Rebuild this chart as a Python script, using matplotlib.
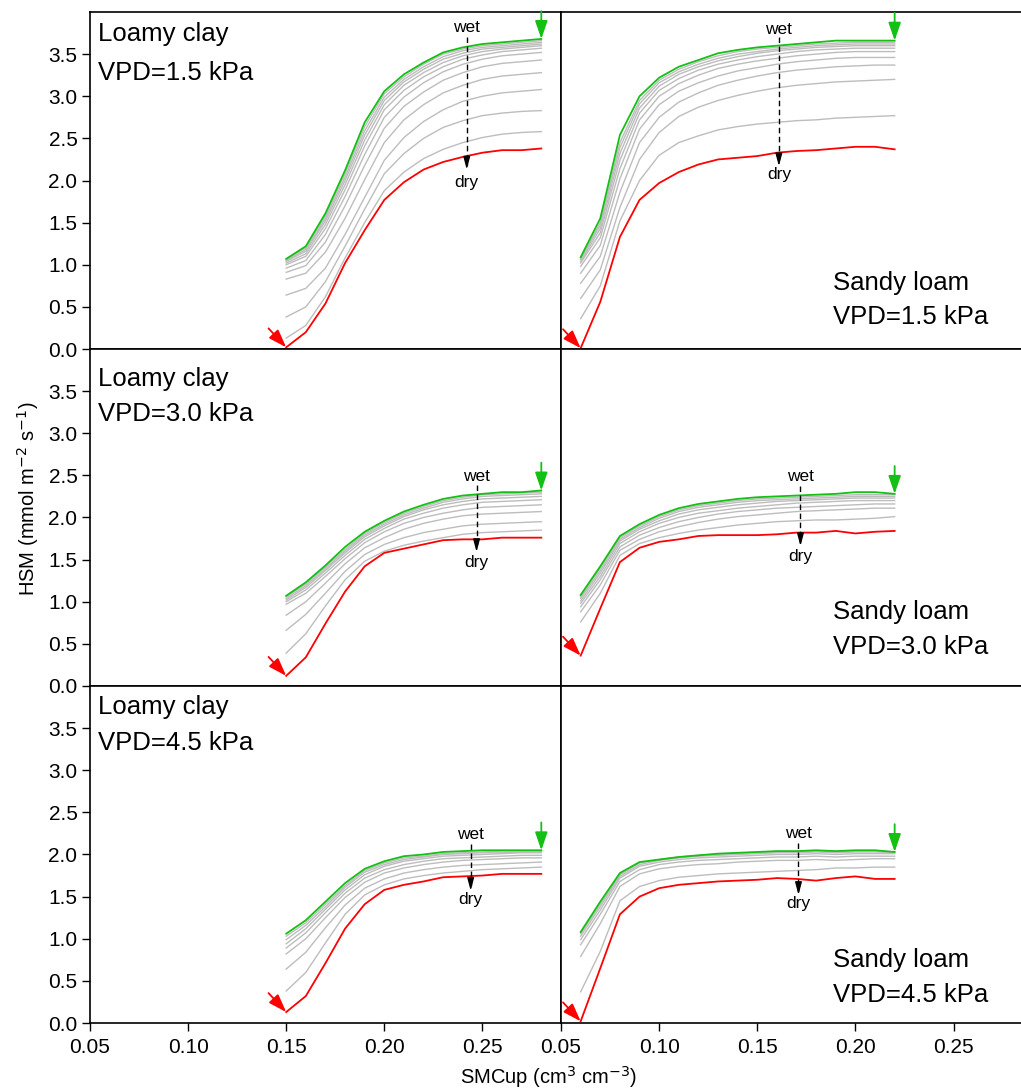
import numpy as np
import matplotlib
matplotlib.use('Agg')
import matplotlib.pyplot as plt

plt.rcParams['font.family'] = ['Liberation Sans', 'DejaVu Sans']

# soil moisture of the upper layer (cm3 cm-3)
x_lc = [0.15, 0.16, 0.17, 0.18, 0.19, 0.20, 0.21, 0.22, 0.23, 0.24, 0.25, 0.26, 0.27, 0.28]
x_sl = [0.06, 0.07, 0.08, 0.09, 0.10, 0.11, 0.12, 0.13, 0.14, 0.15, 0.16, 0.17, 0.18, 0.19, 0.20, 0.21, 0.22]

#%% loamy clay, VPD = 1.5 kPa
lc15_wet = [1.07, 1.22, 1.61, 2.12, 2.69, 3.06, 3.26, 3.40, 3.52, 3.58, 3.62, 3.64, 3.66, 3.68]
lc15_mid = [
    [1.06, 1.20, 1.58, 2.08, 2.64, 3.03, 3.23, 3.38, 3.50, 3.56, 3.60, 3.62, 3.64, 3.66],
    [1.05, 1.18, 1.55, 2.04, 2.59, 2.99, 3.20, 3.35, 3.47, 3.54, 3.58, 3.60, 3.62, 3.64],
    [1.04, 1.16, 1.52, 2.00, 2.54, 2.95, 3.17, 3.32, 3.44, 3.51, 3.56, 3.58, 3.60, 3.62],
    [1.02, 1.13, 1.48, 1.95, 2.48, 2.90, 3.13, 3.28, 3.40, 3.48, 3.53, 3.56, 3.58, 3.60],
    [1.00, 1.10, 1.43, 1.89, 2.41, 2.84, 3.07, 3.23, 3.35, 3.44, 3.49, 3.53, 3.55, 3.57],
    [0.96, 1.05, 1.36, 1.81, 2.31, 2.75, 2.99, 3.16, 3.29, 3.38, 3.44, 3.48, 3.50, 3.52],
    [0.91, 0.99, 1.27, 1.70, 2.18, 2.62, 2.88, 3.05, 3.19, 3.28, 3.35, 3.39, 3.41, 3.43],
    [0.83, 0.90, 1.15, 1.55, 2.01, 2.45, 2.72, 2.90, 3.04, 3.13, 3.20, 3.24, 3.26, 3.28],
    [0.64, 0.72, 0.96, 1.36, 1.80, 2.24, 2.51, 2.70, 2.84, 2.94, 3.00, 3.04, 3.06, 3.08],
    [0.38, 0.50, 0.80, 1.22, 1.66, 2.08, 2.32, 2.50, 2.63, 2.71, 2.77, 2.80, 2.82, 2.83],
    [0.13, 0.28, 0.62, 1.08, 1.50, 1.88, 2.10, 2.26, 2.37, 2.45, 2.51, 2.55, 2.57, 2.58],
]
lc15_dry = [0.02, 0.20, 0.54, 1.02, 1.41, 1.77, 1.98, 2.13, 2.22, 2.28, 2.33, 2.36, 2.36, 2.38]

#%% sandy loam, VPD = 1.5 kPa
sl15_wet = [1.09, 1.55, 2.54, 3.00, 3.22, 3.35, 3.43, 3.51, 3.55, 3.58, 3.60, 3.62, 3.64, 3.66, 3.66, 3.66, 3.66]
sl15_mid = [
    [1.07, 1.50, 2.45, 2.95, 3.19, 3.32, 3.41, 3.48, 3.53, 3.56, 3.58, 3.60, 3.62, 3.63, 3.64, 3.64, 3.64],
    [1.06, 1.47, 2.39, 2.91, 3.16, 3.29, 3.38, 3.45, 3.50, 3.53, 3.56, 3.58, 3.60, 3.61, 3.62, 3.62, 3.62],
    [1.04, 1.43, 2.32, 2.86, 3.12, 3.26, 3.35, 3.42, 3.47, 3.51, 3.54, 3.56, 3.58, 3.59, 3.60, 3.60, 3.60],
    [1.02, 1.38, 2.24, 2.80, 3.07, 3.21, 3.31, 3.38, 3.43, 3.47, 3.50, 3.53, 3.55, 3.56, 3.57, 3.57, 3.57],
    [0.98, 1.32, 2.14, 2.72, 3.00, 3.15, 3.25, 3.33, 3.38, 3.42, 3.45, 3.48, 3.50, 3.52, 3.53, 3.53, 3.53],
    [0.90, 1.23, 2.02, 2.61, 2.90, 3.06, 3.16, 3.24, 3.30, 3.34, 3.38, 3.41, 3.43, 3.45, 3.46, 3.46, 3.46],
    [0.78, 1.10, 1.86, 2.45, 2.75, 2.93, 3.04, 3.13, 3.19, 3.24, 3.28, 3.31, 3.33, 3.35, 3.36, 3.37, 3.37],
    [0.60, 0.94, 1.68, 2.25, 2.57, 2.76, 2.87, 2.95, 3.01, 3.06, 3.10, 3.13, 3.15, 3.17, 3.18, 3.19, 3.20],
    [0.36, 0.75, 1.52, 2.00, 2.30, 2.45, 2.53, 2.60, 2.64, 2.67, 2.69, 2.71, 2.72, 2.74, 2.75, 2.76, 2.77],
]
sl15_dry = [0.01, 0.56, 1.33, 1.77, 1.97, 2.10, 2.19, 2.25, 2.27, 2.29, 2.33, 2.35, 2.36, 2.38, 2.40, 2.40, 2.37]

#%% loamy clay, VPD = 3.0 kPa
lc30_wet = [1.07, 1.23, 1.43, 1.65, 1.83, 1.96, 2.07, 2.15, 2.22, 2.26, 2.28, 2.30, 2.30, 2.32]
lc30_mid = [
    [1.06, 1.21, 1.41, 1.62, 1.81, 1.94, 2.05, 2.13, 2.20, 2.24, 2.27, 2.28, 2.29, 2.30],
    [1.04, 1.19, 1.39, 1.60, 1.79, 1.92, 2.03, 2.11, 2.18, 2.22, 2.25, 2.26, 2.27, 2.28],
    [1.02, 1.17, 1.37, 1.58, 1.77, 1.90, 2.01, 2.09, 2.15, 2.19, 2.22, 2.23, 2.24, 2.25],
    [1.00, 1.14, 1.34, 1.55, 1.74, 1.87, 1.98, 2.05, 2.11, 2.15, 2.18, 2.19, 2.20, 2.21],
    [0.97, 1.10, 1.30, 1.51, 1.70, 1.83, 1.93, 2.00, 2.05, 2.09, 2.12, 2.13, 2.14, 2.15],
    [0.84, 1.00, 1.22, 1.45, 1.64, 1.76, 1.86, 1.93, 1.98, 2.02, 2.04, 2.05, 2.06, 2.07],
    [0.66, 0.85, 1.10, 1.36, 1.56, 1.68, 1.76, 1.82, 1.86, 1.90, 1.92, 1.93, 1.94, 1.95],
    [0.39, 0.62, 0.95, 1.26, 1.48, 1.60, 1.67, 1.72, 1.76, 1.80, 1.82, 1.83, 1.84, 1.85],
]
lc30_dry = [0.12, 0.34, 0.74, 1.12, 1.42, 1.58, 1.63, 1.68, 1.73, 1.74, 1.74, 1.76, 1.76, 1.76]

#%% sandy loam, VPD = 3.0 kPa
sl30_wet = [1.08, 1.42, 1.78, 1.92, 2.03, 2.11, 2.16, 2.19, 2.22, 2.24, 2.25, 2.26, 2.27, 2.28, 2.30, 2.30, 2.28]
sl30_mid = [
    [1.06, 1.40, 1.76, 1.90, 2.01, 2.09, 2.14, 2.17, 2.20, 2.22, 2.23, 2.24, 2.25, 2.26, 2.27, 2.27, 2.27],
    [1.04, 1.37, 1.74, 1.88, 1.99, 2.07, 2.12, 2.15, 2.18, 2.20, 2.21, 2.22, 2.23, 2.24, 2.25, 2.25, 2.25],
    [1.01, 1.34, 1.72, 1.86, 1.96, 2.04, 2.09, 2.12, 2.15, 2.17, 2.19, 2.20, 2.21, 2.22, 2.23, 2.23, 2.23],
    [0.98, 1.30, 1.69, 1.83, 1.93, 2.00, 2.05, 2.08, 2.11, 2.13, 2.15, 2.17, 2.18, 2.19, 2.20, 2.20, 2.20],
    [0.94, 1.26, 1.65, 1.79, 1.88, 1.95, 2.00, 2.04, 2.07, 2.09, 2.11, 2.12, 2.13, 2.14, 2.15, 2.16, 2.16],
    [0.88, 1.20, 1.61, 1.74, 1.83, 1.89, 1.94, 1.98, 2.01, 2.03, 2.05, 2.07, 2.08, 2.09, 2.10, 2.11, 2.11],
    [0.76, 1.10, 1.55, 1.69, 1.76, 1.81, 1.85, 1.88, 1.91, 1.93, 1.95, 1.96, 1.97, 1.97, 1.98, 1.99, 2.01],
]
sl30_dry = [0.36, 0.92, 1.47, 1.64, 1.71, 1.74, 1.78, 1.79, 1.79, 1.79, 1.80, 1.82, 1.82, 1.84, 1.81, 1.83, 1.84]

#%% loamy clay, VPD = 4.5 kPa
lc45_wet = [1.06, 1.22, 1.44, 1.66, 1.83, 1.92, 1.98, 2.00, 2.03, 2.04, 2.05, 2.05, 2.05, 2.05]
lc45_mid = [
    [1.03, 1.19, 1.41, 1.63, 1.81, 1.90, 1.96, 1.98, 2.01, 2.02, 2.03, 2.04, 2.04, 2.04],
    [0.99, 1.16, 1.38, 1.61, 1.79, 1.88, 1.94, 1.97, 2.00, 2.01, 2.02, 2.02, 2.03, 2.03],
    [0.94, 1.12, 1.35, 1.58, 1.76, 1.86, 1.92, 1.95, 1.98, 1.99, 2.00, 2.01, 2.02, 2.02],
    [0.89, 1.07, 1.31, 1.54, 1.72, 1.82, 1.88, 1.92, 1.95, 1.96, 1.97, 1.98, 1.99, 1.99],
    [0.82, 1.00, 1.25, 1.49, 1.67, 1.78, 1.84, 1.88, 1.91, 1.93, 1.94, 1.95, 1.96, 1.96],
    [0.64, 0.84, 1.13, 1.40, 1.60, 1.71, 1.78, 1.82, 1.85, 1.87, 1.88, 1.89, 1.90, 1.91],
    [0.38, 0.60, 0.95, 1.29, 1.52, 1.64, 1.71, 1.75, 1.78, 1.80, 1.82, 1.83, 1.84, 1.85],
]
lc45_dry = [0.13, 0.32, 0.71, 1.12, 1.41, 1.58, 1.64, 1.68, 1.73, 1.74, 1.75, 1.77, 1.77, 1.77]

#%% sandy loam, VPD = 4.5 kPa
sl45_wet = [1.08, 1.44, 1.78, 1.91, 1.94, 1.97, 1.99, 2.01, 2.02, 2.03, 2.04, 2.04, 2.05, 2.04, 2.05, 2.05, 2.03]
sl45_mid = [
    [1.06, 1.41, 1.76, 1.90, 1.94, 1.97, 1.99, 2.00, 2.01, 2.02, 2.03, 2.03, 2.04, 2.03, 2.04, 2.04, 2.03],
    [1.03, 1.38, 1.74, 1.88, 1.93, 1.96, 1.98, 1.99, 2.00, 2.01, 2.02, 2.02, 2.03, 2.02, 2.03, 2.03, 2.02],
    [0.99, 1.34, 1.72, 1.86, 1.91, 1.94, 1.96, 1.97, 1.98, 1.99, 2.00, 2.00, 2.01, 2.00, 2.01, 2.01, 2.01],
    [0.93, 1.29, 1.68, 1.82, 1.88, 1.91, 1.93, 1.94, 1.95, 1.96, 1.97, 1.97, 1.98, 1.97, 1.98, 1.98, 1.98],
    [0.79, 1.18, 1.62, 1.77, 1.83, 1.86, 1.88, 1.89, 1.91, 1.92, 1.93, 1.93, 1.94, 1.93, 1.94, 1.95, 1.95],
    [0.37, 0.85, 1.45, 1.62, 1.69, 1.73, 1.75, 1.77, 1.78, 1.79, 1.80, 1.81, 1.82, 1.84, 1.84, 1.85, 1.85],
]
sl45_dry = [0.02, 0.65, 1.29, 1.50, 1.60, 1.64, 1.66, 1.68, 1.69, 1.70, 1.72, 1.71, 1.69, 1.72, 1.74, 1.71, 1.71]

#%% wet -> dry marker: x position, top of dashed line, arrow tip, "wet" and "dry" text y
wd_x = [0.242, 0.161, 0.247, 0.172, 0.244, 0.171]
wd_top = [3.70, 3.70, 2.38, 2.37, 2.13, 2.14]
wd_tip = [2.13, 2.17, 1.59, 1.66, 1.57, 1.52]
wet_y = [3.82, 3.79, 2.49, 2.48, 2.24, 2.25]
dry_y = [1.98, 2.07, 1.47, 1.54, 1.46, 1.42]

soil_names = ['Loamy clay', 'Sandy loam']
vpd_labels = ['VPD=1.5 kPa', 'VPD=3.0 kPa', 'VPD=4.5 kPa']

panels = [
    (x_lc, lc15_wet, lc15_mid, lc15_dry), (x_sl, sl15_wet, sl15_mid, sl15_dry),
    (x_lc, lc30_wet, lc30_mid, lc30_dry), (x_sl, sl30_wet, sl30_mid, sl30_dry),
    (x_lc, lc45_wet, lc45_mid, lc45_dry), (x_sl, sl45_wet, sl45_mid, sl45_dry),
]

GREEN = '#14c014'
RED = '#ff0000'
GREY = '#bdbdbd'

fig = plt.figure(figsize=(10.21, 10.89), dpi=100)

ax_w, ax_h = 0.4613, 0.3095
lefts = [0.0881, 0.5495]
bottoms = [0.6795, 0.3701, 0.0606]
# label heights (axes fraction) for the two text lines, per row
lc_text_y = [(0.935, 0.818), (0.910, 0.808), (0.938, 0.832)]
sl_text_y = [(0.196, 0.095), (0.220, 0.116), (0.187, 0.083)]

head = '-|>,head_length=1.1,head_width=0.38'

for k, (xs, wet, mid, dry) in enumerate(panels):
    row, col = k // 2, k % 2
    ax = fig.add_axes([lefts[col], bottoms[row], ax_w, ax_h])

    for line in mid:
        ax.plot(xs, line, color=GREY, lw=1.0, zorder=2)
    ax.plot(xs, dry, color=RED, lw=1.3, zorder=3)
    ax.plot(xs, wet, color=GREEN, lw=1.3, zorder=4)

    # green arrow on the wettest curve end
    ax.annotate('', xy=(xs[-1], wet[-1]), xytext=(xs[-1], wet[-1] + 0.33),
                arrowprops=dict(arrowstyle=head, color=GREEN, lw=1.3,
                                shrinkA=0, shrinkB=0), zorder=5)
    # red arrow on the driest curve start
    ax.annotate('', xy=(xs[0], dry[0]), xytext=(xs[0] - 0.009, dry[0] + 0.225),
                arrowprops=dict(arrowstyle=head, color=RED, lw=1.3,
                                shrinkA=0, shrinkB=0), zorder=5)

    # wet -> dry dashed arrow
    ax.plot([wd_x[k], wd_x[k]], [wd_top[k], wd_tip[k] + 0.05], color='k', lw=1.0,
            ls=(0, (4, 2.5)), zorder=6)
    ax.annotate('', xy=(wd_x[k], wd_tip[k]), xytext=(wd_x[k], wd_tip[k] + 0.12),
                arrowprops=dict(arrowstyle='-|>,head_length=0.75,head_width=0.2',
                                color='k', lw=1.0, shrinkA=0, shrinkB=0), zorder=6)
    ax.text(wd_x[k], wet_y[k], 'wet', ha='center', va='center', fontsize=12.5)
    ax.text(wd_x[k], dry_y[k], 'dry', ha='center', va='center', fontsize=12.5)

    if col == 0:
        y1, y2 = lc_text_y[row]
        ax.text(0.017, y1, soil_names[0], transform=ax.transAxes, fontsize=18.5, va='center')
        ax.text(0.017, y2, vpd_labels[row], transform=ax.transAxes, fontsize=18.5, va='center')
    else:
        y1, y2 = sl_text_y[row]
        ax.text(0.578, y1, soil_names[1], transform=ax.transAxes, fontsize=18.5, va='center')
        ax.text(0.578, y2, vpd_labels[row], transform=ax.transAxes, fontsize=18.5, va='center')

    ax.set_xlim(0.05, 0.29)
    ax.set_ylim(0, 4.0)
    ax.set_xticks([0.05, 0.10, 0.15, 0.20, 0.25])
    ax.set_yticks([0.0, 0.5, 1.0, 1.5, 2.0, 2.5, 3.0, 3.5])
    ax.tick_params(direction='out', length=6, width=1.0, labelsize=15)
    ax.tick_params(axis='x', pad=5)
    ax.tick_params(axis='y', pad=3)
    if row == 2:
        ax.set_xticklabels(['%.2f' % v for v in ax.get_xticks()])
    else:
        ax.set_xticklabels([])
    if col == 0:
        ax.set_yticklabels(['%.1f' % v for v in ax.get_yticks()])
    else:
        ax.tick_params(axis='y', left=False, labelleft=False)
    for s in ax.spines.values():
        s.set_linewidth(1.2)

fig.text(0.027, 0.542, 'HSM (mmol m$^{-2}$ s$^{-1}$)', rotation=90, ha='center', va='center', fontsize=14.5)
fig.text(0.537, 0.011, 'SMCup (cm$^{3}$ cm$^{-3}$)', ha='center', va='center', fontsize=14.5)

plt.savefig('out.png', dpi=100)
